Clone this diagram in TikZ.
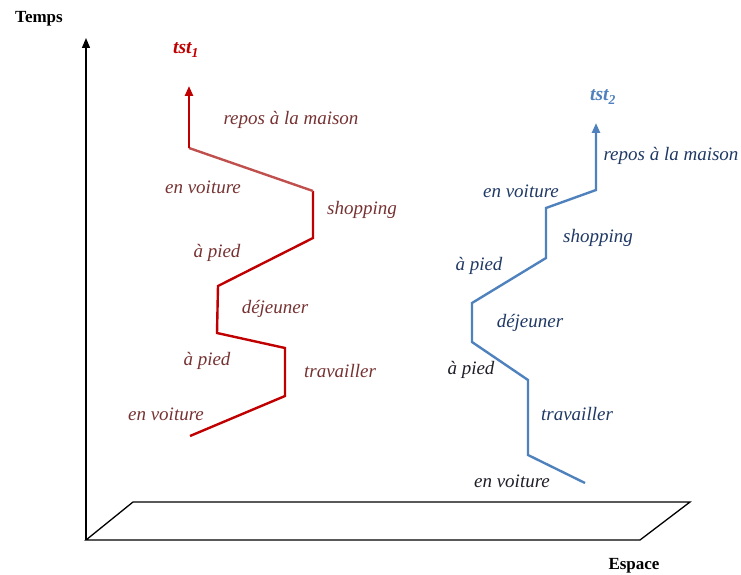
\documentclass[tikz,border=0pt]{standalone}
\usepackage{fontspec}
\setmainfont{Liberation Serif}
\usetikzlibrary{arrows.meta}
\definecolor{tstred}{RGB}{192,0,0}
\definecolor{tstredlight}{RGB}{192,80,77}
\definecolor{labred}{RGB}{118,50,50}
\definecolor{tstblue}{RGB}{79,129,189}
\definecolor{labblue}{RGB}{31,56,100}
\definecolor{labdark}{RGB}{30,30,40}

\begin{document}
\begin{tikzpicture}[x=1pt,y=-1pt,
    lab/.style={font=\fontsize{19}{21}\selectfont\itshape,inner sep=0pt},
    axislab/.style={font=\fontsize{17}{19}\selectfont\bfseries,inner sep=0pt},
    tstlab/.style={font=\fontsize{19.5}{21}\selectfont\bfseries\itshape,inner sep=0pt},
    redline/.style={tstred,line width=2.4pt},
    blueline/.style={tstblue,line width=2.4pt},
    tip/.style={-{Triangle[length=10pt,width=8pt]}}]
\useasboundingbox (0,0) rectangle (741,575);

% axes and ground plane
\coordinate (o) at (86,540);
\coordinate (top) at (86,38);
\coordinate (p1) at (133,502);
\coordinate (p2) at (690,502);
\coordinate (p3) at (640,540);
\draw[line width=1.3pt,tip] (o) -- (top);
\draw[line width=1.3pt] (o) -- (p1) -- (p2) -- (p3) -- cycle;
\node[axislab] (temps) at (39,19) {Temps};
\node[axislab] (espace) at (634,566) {Espace};

% tst1
\coordinate (r0) at (190,436);
\coordinate (r1) at (285,396);
\coordinate (r2) at (285,348);
\coordinate (r3) at (217,333);
\coordinate (r4) at (218,286);
\coordinate (r5) at (313,238);
\coordinate (r6) at (313,191);
\coordinate (r7) at (189,148);
\coordinate (r8) at (189,86);
\draw[redline,line join=miter] (r0) -- (r1) -- (r2) -- (r3) -- (r4) -- (r5) -- (r6);
\draw[tstredlight,line width=2.4pt] (r6) -- (r7);
\draw[redline,tip] (r7) -- (r8);
\node[tstlab,tstred] (tst1) at (186,50) {tst\textsubscript{1}};
\node[lab,labred] (a1) at (291,120) {repos à la maison};
\node[lab,labred] (a2) at (203,187) {en voiture};
\node[lab,labred] (a3) at (362,210) {shopping};
\node[lab,labred] (a4) at (217,253) {à pied};
\node[lab,labred] (a5) at (275,309) {déjeuner};
\node[lab,labred] (a6) at (207,361) {à pied};
\node[lab,labred] (a7) at (340,371) {travailler};
\node[lab,labred] (a8) at (166,414) {en voiture};

% tst2
\coordinate (b0) at (585,483);
\coordinate (b1) at (528,455);
\coordinate (b2) at (528,380);
\coordinate (b3) at (472,342);
\coordinate (b4) at (472,303);
\coordinate (b5) at (546,258);
\coordinate (b6) at (546,208);
\coordinate (b7) at (596,190);
\coordinate (b8) at (596,123);
\draw[blueline,tip] (b0) -- (b1) -- (b2) -- (b3) -- (b4) -- (b5) -- (b6) -- (b7) -- (b8);
\node[tstlab,tstblue] (tst2) at (603,97) {tst\textsubscript{2}};
\node[lab,labblue] (c1) at (671,156) {repos à la maison};
\node[lab,labblue] (c2) at (521,191) {en voiture};
\node[lab,labblue] (c3) at (598,238) {shopping};
\node[lab,labblue] (c4) at (479,266) {à pied};
\node[lab,labblue] (c5) at (530,323) {déjeuner};
\node[lab,labdark] (c6) at (471,370) {à pied};
\node[lab,labblue] (c7) at (577,414) {travailler};
\node[lab,labdark] (c8) at (512,481) {en voiture};
\end{tikzpicture}
\end{document}
